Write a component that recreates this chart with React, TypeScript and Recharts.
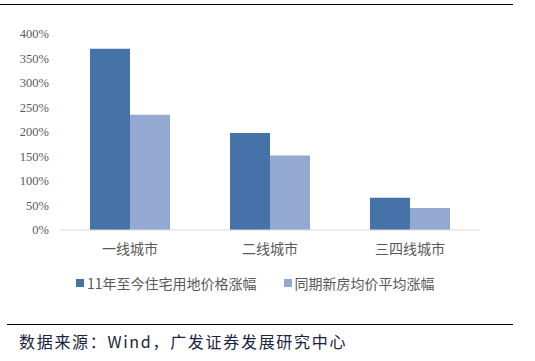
import { BarChart, Bar, XAxis, YAxis } from 'recharts';

const CITIES = ['一线城市', '二线城市', '三四线城市'];
const LAND_PRICE = [370, 198, 66];
const HOUSE_PRICE = [235, 152, 45];
const Y_TICKS = [0, 50, 100, 150, 200, 250, 300, 350, 400];

const SERIES = [
  { key: 'land', name: '11年至今住宅用地价格涨幅', color: '#4572A7' },
  { key: 'house', name: '同期新房均价平均涨幅', color: '#93A9D1' },
];

const data = CITIES.map((city, i) => ({
  city,
  land: LAND_PRICE[i],
  house: HOUSE_PRICE[i],
}));

const CJK = "'Noto Sans CJK SC', sans-serif";

export default function App() {
  return (
    <div style={{ position: 'absolute', left: 0, top: 0, width: 535, height: 361, background: '#fff' }}>
      <div style={{ position: 'absolute', left: 0, top: 4, width: 513, height: 1, background: '#000' }} />
      <BarChart
        width={535}
        height={300}
        data={data}
        margin={{ top: 34, right: 55, left: 0, bottom: 40 }}
        barCategoryGap={30}
        barGap={0}
      >
        <XAxis
          dataKey="city"
          height={30}
          tickLine={false}
          axisLine={{ stroke: '#d9d9d9' }}
          tick={{ fill: '#595959', fontSize: 14, fontFamily: CJK }}
          tickMargin={8}
        />
        <YAxis
          width={60}
          domain={[0, 400]}
          ticks={Y_TICKS}
          tickFormatter={(v) => `${v}%`}
          axisLine={false}
          tickLine={false}
          tickSize={0}
          tickMargin={11}
          tick={{ fill: '#595959', fontSize: 12.5, fontFamily: "'Liberation Serif', serif" }}
        />
        {SERIES.map((s) => (
          <Bar key={s.key} dataKey={s.key} name={s.name} fill={s.color} isAnimationActive={false} />
        ))}
      </BarChart>
      <div
        style={{
          position: 'absolute',
          top: 273,
          left: 76,
          display: 'flex',
          gap: 27,
          fontFamily: CJK,
          fontSize: 14,
          color: '#595959',
        }}
      >
        {SERIES.map((s) => (
          <div key={s.key} style={{ display: 'flex', alignItems: 'center' }}>
            <span style={{ width: 8, height: 8, background: s.color, marginRight: 3, display: 'inline-block' }} />
            <span>{s.name}</span>
          </div>
        ))}
      </div>
      <div style={{ position: 'absolute', left: 7, top: 324, width: 506, height: 1, background: '#000' }} />
      <div
        style={{
          position: 'absolute',
          left: 19,
          top: 329,
          fontFamily: CJK,
          fontSize: 16,
          color: '#1a2340',
          letterSpacing: 1.7,
        }}
      >
        数据来源：Wind，广发证券发展研究中心
      </div>
    </div>
  );
}
